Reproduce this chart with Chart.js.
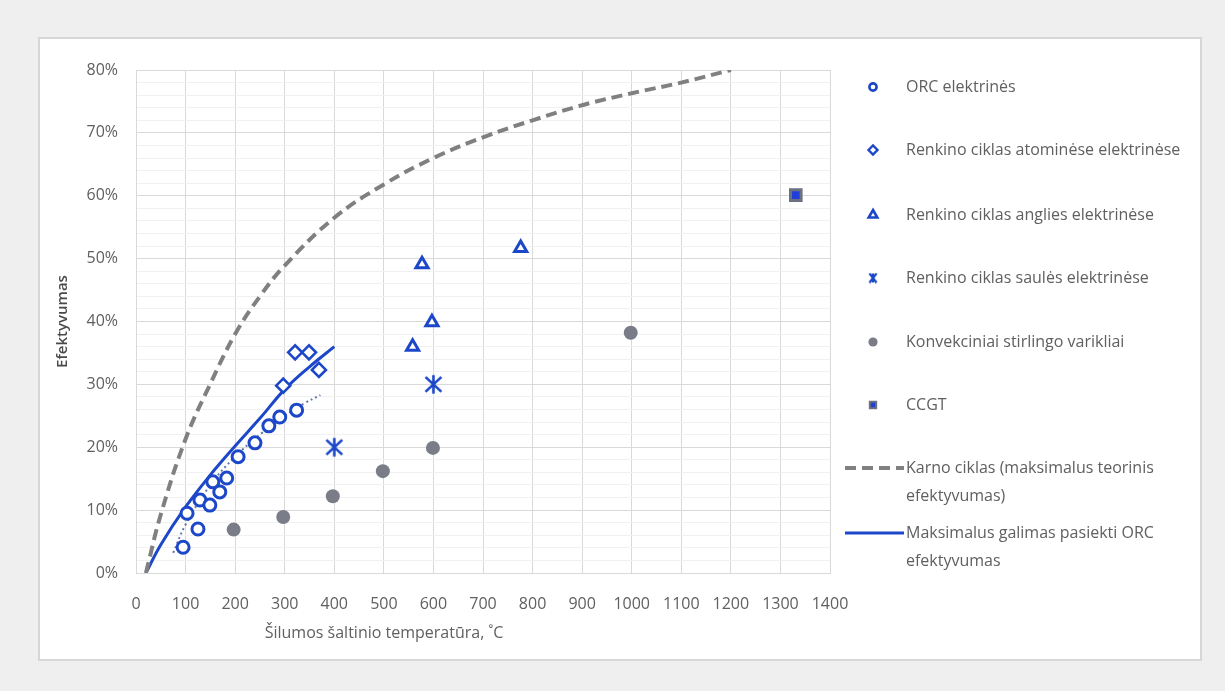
<!DOCTYPE html>
<html>
<head>
<meta charset="utf-8">
<script src="https://cdn.jsdelivr.net/npm/chart.js"></script>
<style>
  html, body { margin: 0; padding: 0; }
  body { width: 1225px; height: 691px; background: #efefef; position: relative; overflow: hidden; }
  #panel { position: absolute; left: 38px; top: 37px; width: 1160px; height: 620px; background: #fff; border: 2px solid #d6d6d6; }
  #wrap { position: absolute; left: 0; top: 0; width: 1225px; height: 691px; }
</style>
</head>
<body>
<div id="panel"></div>
<div id="wrap"><canvas id="grafikas"></canvas></div>
<script>
// DUOMENYS (temperatūra, °C / efektyvumas, %)
var orcTemp = [95, 103, 125, 129, 149, 155, 169, 183, 206, 240, 268, 290, 324];
var orcEff = [4.1, 9.5, 7.0, 11.6, 10.8, 14.5, 12.9, 15.1, 18.5, 20.7, 23.4, 24.8, 25.9];

var atomTemp = [297, 321, 349, 369];
var atomEff = [29.8, 35.1, 35.1, 32.3];

var anglTemp = [558, 577, 597, 776];
var anglEff = [36.0, 49.1, 39.9, 51.7];

var saulTemp = [400, 600];
var saulEff = [20, 30];

var stirlTemp = [197, 297, 397, 498, 599, 998];
var stirlEff = [6.9, 8.9, 12.2, 16.2, 19.9, 38.2];

var ccgtTemp = [1331];
var ccgtEff = [60.1];

var karnoTemp = [20, 50, 100, 150, 200, 250, 300, 400, 500, 600, 700, 800, 900, 1000, 1100, 1200];
var karnoEff = [0, 9.3, 21.3, 30.1, 38.0, 44.0, 48.9, 56.5, 61.8, 66.0, 69.3, 72.0, 74.4, 76.3, 78.0, 80.0];

var orcMaxTemp = [20, 50, 100, 150, 200, 250, 300, 350, 400];
var orcMaxEff = [0, 4.5, 10.5, 15.6, 20.2, 24.6, 29.2, 32.8, 36];

var orcTrendTemp = [75, 100, 150, 200, 250, 300, 340, 372];
var orcTrendEff = [3.2, 7.7, 14, 18.5, 22, 25, 27, 28.3];

var xTicks = [0, 1400, 100];
var yTicks = [0, 80, 10];

var MELYNA = '#1c47c9';
var PILKA = '#7a7d87';
var TEKSTAS = '#606060';
var SRIFTAS = "'Open Sans', sans-serif";

function taskai(xs, ys) {
    return xs.map(function (x, i) { return { x: x, y: ys[i] }; });
}

// žvaigždutė: X su vertikalia linija
function zvaigzdute(w, h, lw, kampas) {
    var c = document.createElement('canvas');
    c.width = w; c.height = h;
    var g = c.getContext('2d');
    g.strokeStyle = MELYNA;
    g.lineWidth = lw;
    g.beginPath();
    g.moveTo(lw * 0.6, h * kampas); g.lineTo(w - lw * 0.6, h * (1 - kampas));
    g.moveTo(w - lw * 0.6, h * kampas); g.lineTo(lw * 0.6, h * (1 - kampas));
    g.moveTo(w / 2, h * 0.1); g.lineTo(w / 2, h * 0.9);
    g.stroke();
    return c;
}
var zvaigzdeDidele = zvaigzdute(19, 23, 2.6, 0.18);
var zvaigzdeMaza = zvaigzdute(10, 11, 2.4, 0.08);

var datasets = [
    {
        label: 'ORC elektrinės',
        data: taskai(orcTemp, orcEff),
        pointStyle: 'circle', pointRadius: 6, borderWidth: 3,
        borderColor: MELYNA, backgroundColor: '#ffffff',
        legenda: { style: 'circle', r: 3.6, bw: 2.6 }
    },
    {
        label: 'Renkino ciklas atominėse elektrinėse',
        data: taskai(atomTemp, atomEff),
        pointStyle: 'rectRot', pointRadius: 7, borderWidth: 2.6,
        borderColor: MELYNA, backgroundColor: '#ffffff',
        legenda: { style: 'rectRot', r: 4.5, bw: 2.4 }
    },
    {
        label: 'Renkino ciklas anglies elektrinėse',
        data: taskai(anglTemp, anglEff),
        pointStyle: 'triangle', pointRadius: 7, borderWidth: 3,
        borderColor: MELYNA, backgroundColor: '#ffffff',
        legenda: { style: 'triangle', r: 5, bw: 2.6 }
    },
    {
        label: 'Renkino ciklas saulės elektrinėse',
        data: taskai(saulTemp, saulEff),
        pointStyle: zvaigzdeDidele, pointRadius: 10,
        borderColor: MELYNA, backgroundColor: MELYNA,
        legenda: { style: zvaigzdeMaza }
    },
    {
        label: 'Konvekciniai stirlingo varikliai',
        data: taskai(stirlTemp, stirlEff),
        pointStyle: 'circle', pointRadius: 7, borderWidth: 0,
        borderColor: PILKA, backgroundColor: PILKA,
        legenda: { style: 'circle', r: 4.6, bw: 0 }
    },
    {
        label: 'CCGT',
        data: taskai(ccgtTemp, ccgtEff),
        pointStyle: 'rect', pointRadius: 7.5, borderWidth: 3,
        borderColor: '#6c7180', backgroundColor: '#1f3fd8',
        legenda: { style: 'rect', r: 4.5, bw: 2 }
    },
    {
        label: 'Karno ciklas (maksimalus teorinis\nefektyvumas)',
        type: 'line',
        data: taskai(karnoTemp, karnoEff),
        showLine: true, pointRadius: 0,
        borderColor: '#808080', borderWidth: 4, borderDash: [11, 6],
        tension: 0.4, fill: false,
        legenda: { line: true }
    },
    {
        label: 'Maksimalus galimas pasiekti ORC\nefektyvumas',
        type: 'line',
        data: taskai(orcMaxTemp, orcMaxEff),
        showLine: true, pointRadius: 0,
        borderColor: MELYNA, borderWidth: 3,
        tension: 0.4, fill: false,
        legenda: { line: true }
    },
    {
        // ORC taškų tendencijos linija (legendoje nerodoma)
        label: '',
        type: 'line',
        data: taskai(orcTrendTemp, orcTrendEff),
        showLine: true, pointRadius: 0,
        borderColor: '#6478a8', borderWidth: 2, borderDash: [2, 3],
        tension: 0.4, fill: false
    }
];

// LEGENDA IR AŠIES PAVADINIMAS
var legendaPlugin = {
    id: 'legenda',
    afterDraw: function (chart) {
        var ctx = chart.ctx;
        var eilutes = [87, 150, 215, 278, 342, 405, 468, 533];
        var zymX = 873, tekstX = 906, tarpas = 28;
        ctx.save();
        chart.data.datasets.forEach(function (ds, i) {
            if (!ds.legenda) return;
            var y = eilutes[i];
            var l = ds.legenda;
            ctx.strokeStyle = ds.borderColor;
            ctx.fillStyle = ds.backgroundColor;
            if (l.line) {
                ctx.lineWidth = ds.borderWidth;
                ctx.setLineDash(ds.borderDash || []);
                ctx.beginPath();
                ctx.moveTo(845, y);
                ctx.lineTo(904, y);
                ctx.stroke();
                ctx.setLineDash([]);
            } else {
                ctx.lineWidth = l.bw || 0;
                Chart.helpers.drawPoint(ctx, { pointStyle: l.style, radius: l.r || 5, borderWidth: l.bw || 0, rotation: 0 }, zymX, y);
            }
            ctx.fillStyle = TEKSTAS;
            ctx.font = '16px ' + SRIFTAS;
            ctx.textAlign = 'left';
            ctx.textBaseline = 'middle';
            ds.label.split('\n').forEach(function (t, k) {
                ctx.fillText(t, tekstX, y + k * tarpas);
            });
        });
        // x ašies pavadinimas
        ctx.fillStyle = TEKSTAS;
        ctx.font = '16px ' + SRIFTAS;
        ctx.textAlign = 'center';
        ctx.textBaseline = 'middle';
        ctx.fillText('Šilumos šaltinio temperatūra, ˚C', 384, 633);
        ctx.restore();
    }
};

var grafikasCtx = document.getElementById('grafikas').getContext('2d');

var grafikas = new Chart(grafikasCtx, {
    type: 'scatter',
    data: { datasets: datasets },
    options: {
        responsive: true,
        maintainAspectRatio: false,
        animation: false,
        events: [],
        layout: {
            padding: { left: 48, top: 70, right: 395, bottom: 40 }
        },
        scales: {
            x: {
                type: 'linear',
                min: xTicks[0],
                max: xTicks[1],
                ticks: {
                    stepSize: xTicks[2],
                    color: TEKSTAS,
                    font: { family: SRIFTAS, size: 16 },
                    padding: 22,
                    maxRotation: 0,
                    callback: function (v) { return String(v); }
                },
                grid: { color: '#d9d9d9', drawTicks: false },
                border: { color: '#d9d9d9' },
                afterFit: function (s) { s.height = 78; }
            },
            y: {
                min: yTicks[0],
                max: yTicks[1],
                ticks: {
                    stepSize: 2,
                    autoSkip: false,
                    color: TEKSTAS,
                    font: { family: SRIFTAS, size: 16 },
                    padding: 18,
                    callback: function (v) { return v % yTicks[2] === 0 ? v + '%' : ''; }
                },
                grid: {
                    drawTicks: false,
                    color: function (c) { return c.tick && c.tick.value % yTicks[2] === 0 ? '#d9d9d9' : '#f1f1f1'; }
                },
                border: { color: '#d9d9d9' },
                title: {
                    display: true,
                    text: 'Efektyvumas',
                    color: '#4a4a4a',
                    font: { family: SRIFTAS, size: 15, weight: '600' },
                    padding: { top: 6, bottom: 0 }
                },
                afterFit: function (s) { s.width = 88; }
            }
        },
        plugins: {
            legend: { display: false },
            tooltip: { enabled: false }
        }
    },
    plugins: [legendaPlugin]
});
</script>
</body>
</html>
